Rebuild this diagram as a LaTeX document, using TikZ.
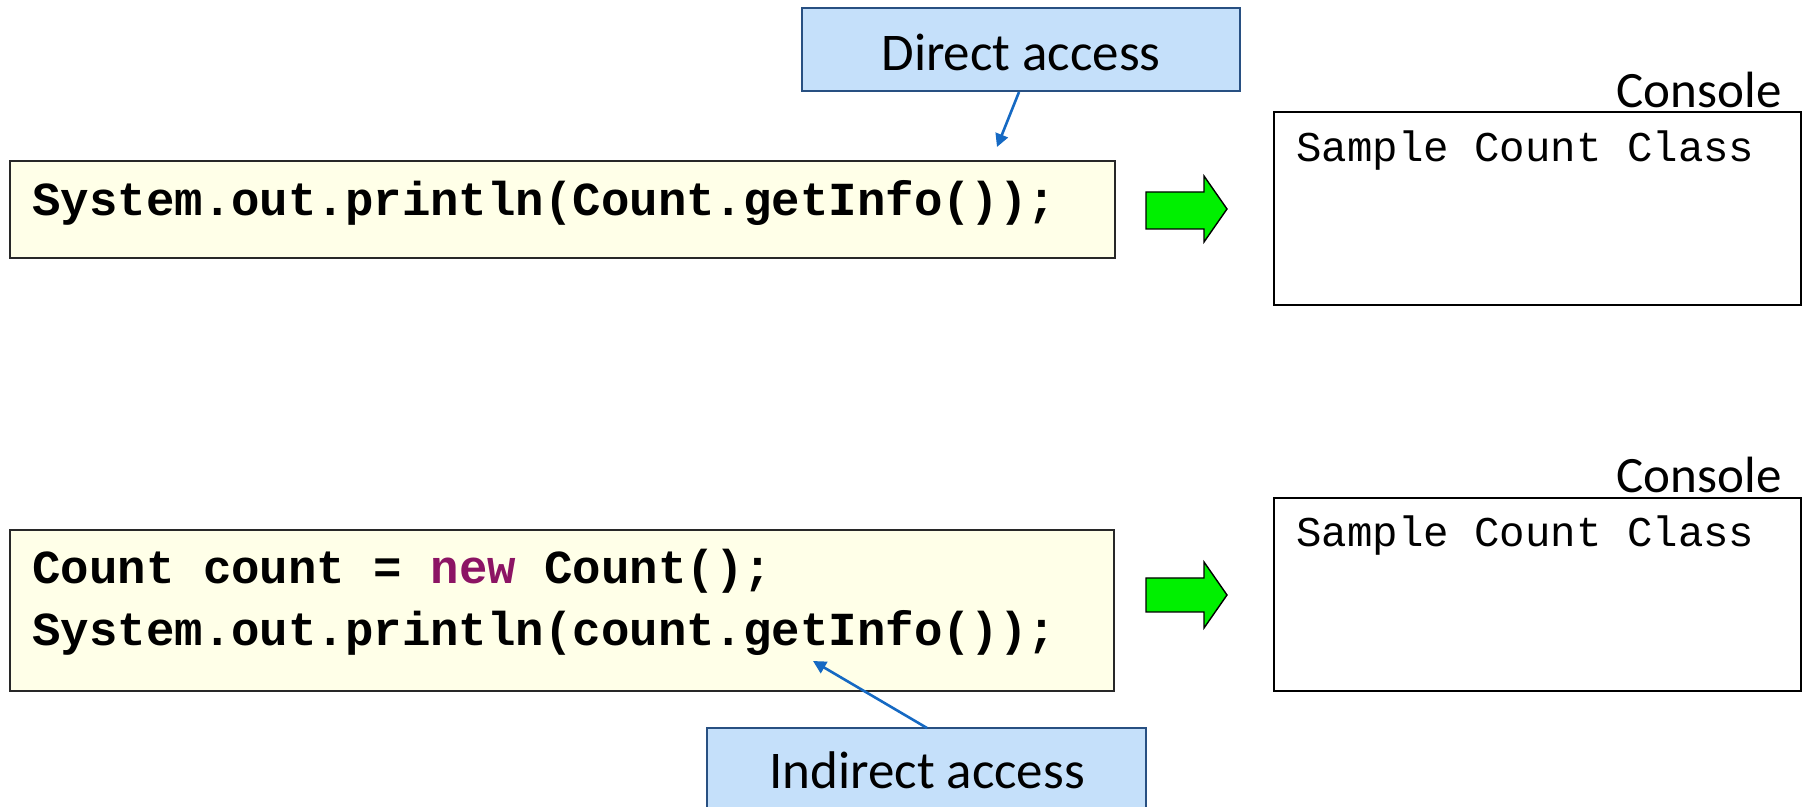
\documentclass[tikz,border=0pt]{standalone}
\usepackage{fontspec}
\setmainfont{Carlito}
\newfontfamily\codefont{Liberation Mono}
\usetikzlibrary{arrows.meta}
\definecolor{codebg}{RGB}{255,255,232}
\definecolor{codeedge}{RGB}{40,40,40}
\definecolor{calloutbg}{RGB}{197,224,250}
\definecolor{calloutedge}{RGB}{40,80,130}
\definecolor{pointer}{RGB}{21,105,195}
\definecolor{kw}{RGB}{140,20,100}
\definecolor{arrowgreen}{RGB}{0,240,0}
\tikzset{
  codebox/.style={draw=codeedge, fill=codebg, line width=1.1pt},
  codetext/.style={anchor=west, inner sep=0pt, font=\codefont\bfseries\fontsize{23.7}{28}\selectfont},
  consolebox/.style={draw=black, fill=white, line width=0.8pt},
  consoletext/.style={anchor=west, inner sep=0pt, font=\codefont\fontsize{21.2}{26}\selectfont},
  consolelabel/.style={anchor=east, inner sep=0pt, font=\fontsize{25.5}{30}\selectfont},
  callout/.style={draw=calloutedge, fill=calloutbg, line width=0.8pt},
  callouttext/.style={inner sep=0pt, font=\fontsize{26.5}{31}\selectfont},
  pointerarrow/.style={draw=pointer, line width=1.3pt, -{Triangle[length=6.5pt,width=6.5pt]}},
  greenarrow/.style={draw=black, fill=arrowgreen, line width=0.7pt},
}
\begin{document}
\begin{tikzpicture}[x=0.5pt,y=-0.5pt]
\useasboundingbox (0,0) rectangle (1806,807);
% ---------- top row ----------
\draw[codebox] (10,161) rectangle (1115,258);
\node[codetext] (code1) at (32,203) {System.out.println(Count.getInfo());};
\draw[greenarrow] (1146,192) -- (1204,192) -- (1204,176) -- (1227,209) -- (1204,242) -- (1204,229) -- (1146,229) -- cycle;
\draw[consolebox] (1274,112) rectangle (1801,305);
\node[consolelabel] (con1) at (1782,90) {Console};
\node[consoletext] (out1) at (1296,151) {Sample Count Class};
\draw[callout] (802,8) rectangle (1240,91);
\node[callouttext] (direct) at (1021,52) {Direct access};
\coordinate (dstart) at (1019,92);
\coordinate (dend) at (997,147);
\draw[pointerarrow] (dstart) -- (dend);
% ---------- bottom row ----------
\draw[codebox] (10,530) rectangle (1114,691);
\node[codetext] (code2a) at (32,571) {Count count = \textcolor{kw}{new} Count();};
\node[codetext] (code2b) at (32,633) {System.out.println(count.getInfo());};
\draw[greenarrow] (1146,578) -- (1204,578) -- (1204,562) -- (1227,595) -- (1204,628) -- (1204,612) -- (1146,612) -- cycle;
\draw[consolebox] (1274,498) rectangle (1801,691);
\node[consolelabel] (con2) at (1782,475) {Console};
\node[consoletext] (out2) at (1296,536) {Sample Count Class};
\draw[callout] (707,728) rectangle (1146,830);
\node[callouttext] (indirect) at (927,770) {Indirect access};
\coordinate (istart) at (927,728);
\coordinate (iend) at (813,661);
\draw[pointerarrow] (istart) -- (iend);
\end{tikzpicture}
\end{document}
